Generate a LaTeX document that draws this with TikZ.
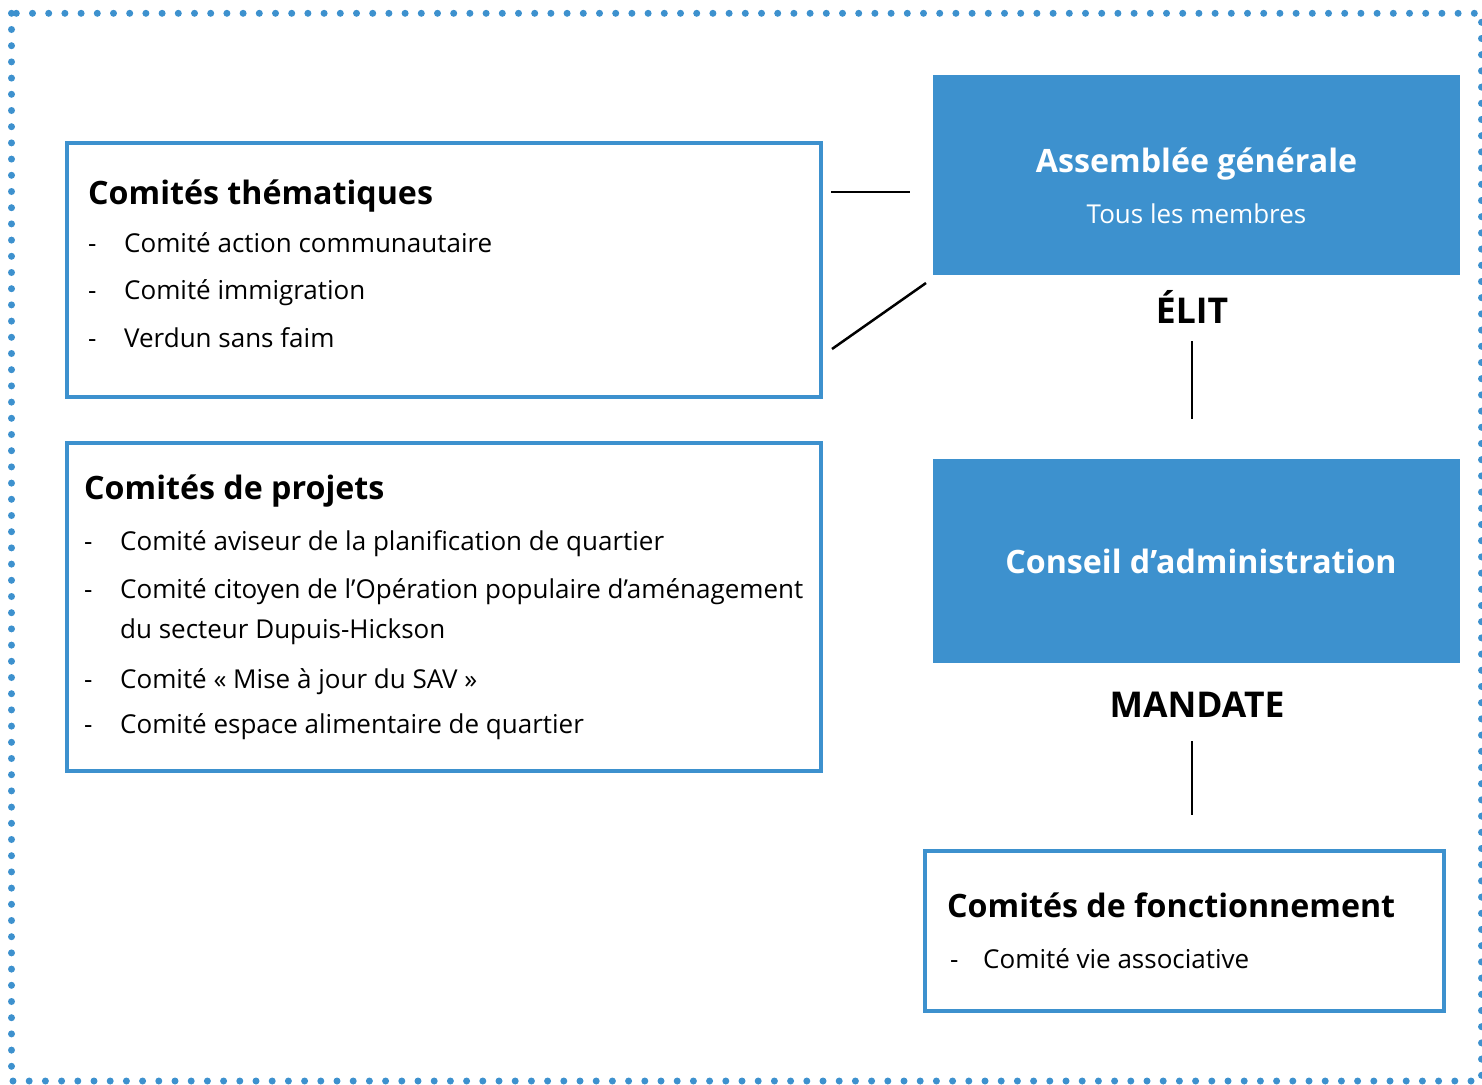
\documentclass[tikz,border=0pt]{standalone}
\usepackage{fontspec}
\setmainfont{Open Sans}
\newfontfamily\labfont{Open Sans}
\definecolor{cblue}{RGB}{61,145,206}
\begin{document}
\begin{tikzpicture}[x=1pt,y=-1pt]
\tikzset{
  outerborder/.style={draw=cblue, line width=7pt, line cap=round, dash pattern=on 0pt off 16.2pt},
  framebox/.style={draw=cblue, line width=4.5pt, rectangle, inner sep=0pt},
  fillbox/.style={fill=cblue, rectangle, inner sep=0pt},
  boxtitle/.style={anchor=base west, inner sep=0pt, font=\fontsize{32.2}{37}\selectfont\bfseries},
  itemtext/.style={anchor=base west, inner sep=0pt, font=\fontsize{26}{31}\selectfont},
  dashmark/.style={anchor=base west, inner sep=0pt, font=\fontsize{26}{31}\selectfont},
  bigwhite/.style={anchor=base, inner sep=0pt, text=white, font=\fontsize{32.2}{37}\selectfont\bfseries},
  subwhite/.style={anchor=base, inner sep=0pt, text=white, font=\fontsize{26}{31}\selectfont},
  relabel/.style={anchor=base, inner sep=0pt, font=\labfont\fontsize{35.5}{40}\selectfont\bfseries},
  connector/.style={draw=black, line width=2.5pt}
}
\useasboundingbox (0,0) rectangle (1482,1084);
% dotted outer border
\draw[outerborder] (11.5,13.3) rectangle (1481.5,1081);

% boxes
\node[framebox, minimum width=754pt, minimum height=254pt] (them) at (444,270) {};
\node[framebox, minimum width=754pt, minimum height=328pt] (proj) at (444,607) {};
\node[fillbox, minimum width=527pt, minimum height=200pt] (ag) at (1196.5,175) {};
\node[fillbox, minimum width=527pt, minimum height=204pt] (ca) at (1196.5,561) {};
\node[framebox, minimum width=519pt, minimum height=160pt] (fonc) at (1184.5,931) {};

% Comités thématiques
\node[boxtitle] (themt) at (88,204) {Comités thématiques};
\node[dashmark] (td1) at (88,252) {-};
\node[itemtext] (ti1) at (124,252) {Comité action communautaire};
\node[dashmark] (td2) at (88,299) {-};
\node[itemtext] (ti2) at (124,299) {Comité immigration};
\node[dashmark] (td3) at (88,347) {-};
\node[itemtext] (ti3) at (124,347) {Verdun sans faim};

% Comités de projets
\node[boxtitle] (projt) at (84,499) {Comités de projets};
\node[dashmark] (pd1) at (84,550) {-};
\node[itemtext] (pi1) at (120,550) {Comité aviseur de la planification de quartier};
\node[dashmark] (pd2) at (84,598) {-};
\node[itemtext] (pi2) at (120,598) {Comité citoyen de l’Opération populaire d’aménagement};
\node[itemtext] (pi2b) at (120,638) {du secteur Dupuis-Hickson};
\node[dashmark] (pd3) at (84,688) {-};
\node[itemtext] (pi3) at (120,688) {Comité « Mise à jour du SAV »};
\node[dashmark] (pd4) at (84,733) {-};
\node[itemtext] (pi4) at (120,733) {Comité espace alimentaire de quartier};

% Assemblée générale
\node[bigwhite] (agt) at (1196.5,172) {Assemblée générale};
\node[subwhite] (ags) at (1196.5,223) {Tous les membres};

% Conseil d'administration
\node[bigwhite] (cat) at (1201,573) {Conseil d’administration};

% Comités de fonctionnement
\node[boxtitle] (foncT) at (947,917) {Comités de fonctionnement};
\node[dashmark] (fd1) at (950,968) {-};
\node[itemtext] (fi1) at (983,968) {Comité vie associative};

% relation labels
\node[relabel] (elit) at (1192,323) {ÉLIT};
\node[relabel] (mandate) at (1197,717) {MANDATE};

% connectors
\coordinate (h1a) at (831,192);
\coordinate (h1b) at (910,192);
\coordinate (d1a) at (832,349);
\coordinate (d1b) at (926,283);
\coordinate (v1a) at (1192,341);
\coordinate (v2a) at (1192,741);
\draw[connector] (h1a) -- (h1b);
\draw[connector] (d1a) -- (d1b);
\draw[connector] (v1a) -- ([yshift=40pt]v1a |- ca.north);
\draw[connector] (v2a) -- ([yshift=34pt]v2a |- fonc.north);
\end{tikzpicture}
\end{document}
